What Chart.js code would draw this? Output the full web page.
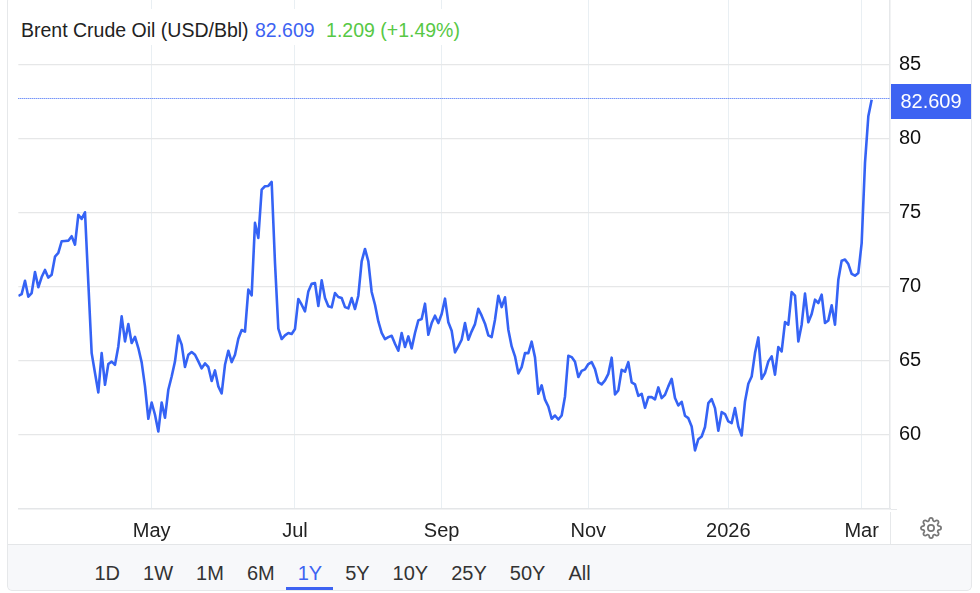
<!DOCTYPE html>
<html>
<head>
<meta charset="utf-8">
<title>Brent Crude Oil</title>
<script src="https://cdn.jsdelivr.net/npm/chart.js@4"></script>
<style>
	html, body { margin: 0; padding: 0; background: #fff; overflow: hidden; }
	body { width: 980px; height: 593px; position: relative; font-family: "Liberation Sans", Arial, sans-serif; }
	#chartWrap { position: absolute; left: 0; top: 0; width: 980px; height: 593px; }
	#header { position: absolute; left: 18px; top: 9px; width: 447px; height: 36px; background: #fff; font-size: 19.5px; line-height: 42px; color: #222; white-space: nowrap; padding-left: 3px; box-sizing: border-box; }
	#header .last { color: #3d63f2; margin-left: 1px; }
	#header .change { color: #57c845; margin-left: 6px; }
	#footer { position: absolute; left: 8px; top: 544px; width: 963px; height: 46px; box-sizing: border-box; background: #f7f8fa; border-top: 1px solid #e4e6e8; display: flex; gap: 23px; padding-left: 86.5px; font-size: 20px; line-height: 56px; color: #333; }
	#footer span { position: relative; }
	#footer span.active { color: #3d63f2; }
	#footer span.active::after { content: ''; position: absolute; left: -12px; right: -11px; bottom: 0; height: 3px; background: #3d63f2; }
	#frame { position: absolute; left: 7px; top: -4px; width: 965px; height: 595px; box-sizing: border-box; border: 1.5px solid #e6e8ea; border-radius: 5px; pointer-events: none; }
	#axisStub { position: absolute; left: 889.5px; top: 512px; width: 1.5px; height: 32px; background: #e6e8ea; }
	#axisEnd { position: absolute; left: 891px; top: 508.5px; width: 6px; height: 1.5px; background: #e6e8ea; }
	#gear { position: absolute; left: 920px; top: 517px; width: 22px; height: 22px; fill: none; stroke: #777; stroke-width: 1.9; }
</style>
</head>
<body>
<div id="chartWrap"><canvas id="oilChart" width="980" height="593"></canvas></div>
<div id="header">Brent Crude Oil (USD/Bbl) <span class="last">82.609</span> <span class="change">1.209 (+1.49%)</span></div>
<div id="axisStub"></div>
<div id="axisEnd"></div>
<svg id="gear" viewBox="0 0 24 24"><circle cx="12" cy="12" r="3.4"></circle><path d="M19.4 15a1.65 1.65 0 0 0 .33 1.82l.06.06a2 2 0 0 1 0 2.83 2 2 0 0 1-2.83 0l-.06-.06a1.65 1.65 0 0 0-1.82-.33 1.65 1.65 0 0 0-1 1.51V21a2 2 0 0 1-2 2 2 2 0 0 1-2-2v-.09A1.65 1.65 0 0 0 9 19.4a1.65 1.65 0 0 0-1.82.33l-.06.06a2 2 0 0 1-2.83 0 2 2 0 0 1 0-2.83l.06-.06a1.65 1.65 0 0 0 .33-1.82 1.65 1.65 0 0 0-1.51-1H3a2 2 0 0 1-2-2 2 2 0 0 1 2-2h.09A1.65 1.65 0 0 0 4.6 9a1.65 1.65 0 0 0-.33-1.82l-.06-.06a2 2 0 0 1 0-2.83 2 2 0 0 1 2.83 0l.06.06a1.65 1.65 0 0 0 1.82.33H9a1.65 1.65 0 0 0 1-1.51V3a2 2 0 0 1 2-2 2 2 0 0 1 2 2v.09a1.65 1.65 0 0 0 1 1.51 1.65 1.65 0 0 0 1.82-.33l.06-.06a2 2 0 0 1 2.83 0 2 2 0 0 1 0 2.83l-.06.06a1.65 1.65 0 0 0-.33 1.82V9a1.65 1.65 0 0 0 1.51 1H21a2 2 0 0 1 2 2 2 2 0 0 1-2 2h-.09a1.65 1.65 0 0 0-1.51 1z"></path></svg>
<div id="footer"></div>
<div id="frame"></div>
<script>
// daily closes, one per trading day
const prices = [
	69.35, 69.48, 70.38, 69.30, 69.55, 70.97, 69.94, 70.63, 71.11, 70.59, 70.79, 72.01, 72.26, 73.05, 73.07, 73.09, 73.39, 72.82, 74.83, 74.56,
	75.01, 70.23, 65.49, 64.14, 62.83, 65.49, 63.35, 64.75, 64.91, 64.70, 65.94, 67.97, 66.28, 67.45, 66.17, 66.58, 65.83, 64.86, 63.24, 61.05,
	62.15, 61.32, 60.19, 62.15, 61.12, 63.01, 63.91, 64.93, 66.67, 66.06, 64.55, 65.38, 65.56, 65.38, 64.93, 64.46, 64.79, 64.55, 63.60, 64.32,
	63.24, 62.76, 64.70, 65.65, 64.88, 65.38, 66.46, 67.05, 66.94, 69.78, 69.39, 74.29, 73.27, 76.54, 76.77, 76.79, 77.06, 71.58, 67.14, 66.44,
	66.69, 66.85, 66.78, 67.12, 69.15, 68.76, 68.31, 69.66, 70.18, 70.23, 68.67, 70.41, 69.21, 68.65,
	68.58, 69.55, 69.28, 69.21, 68.60, 68.51, 69.21, 68.47, 69.37, 71.69, 72.53, 71.69, 69.62, 68.76, 67.63, 66.85, 66.44, 66.57, 66.66, 66.12,
	65.65, 66.85, 65.90, 66.62, 65.81, 66.85, 67.70, 67.79, 68.83, 66.73, 67.52, 68.02, 67.52, 68.13, 69.17, 67.57, 67.00, 65.54, 65.94, 66.39,
	67.52, 66.39, 66.96, 67.45, 68.49, 68.02, 67.48, 66.69, 66.57, 67.75, 69.37, 68.60, 69.26, 67.07, 65.94, 65.27, 64.12, 64.54, 65.49, 65.49,
	66.26, 65.20, 62.74, 63.31, 62.34, 61.88, 61.05, 61.27, 61.00, 61.27, 62.56, 65.31, 65.22, 64.90, 63.87, 64.29, 64.39, 64.75, 64.88, 64.41,
	63.53, 63.37, 63.64, 64.09, 65.18, 62.70, 62.97, 64.36, 64.23, 64.88, 63.51, 63.37, 62.60, 62.74, 61.79, 62.51, 62.51, 62.36, 63.17,
	62.45, 62.67, 63.24, 63.75, 62.45, 61.95, 62.20, 61.25, 61.09, 60.53, 58.91, 59.67, 59.85, 60.49, 62.11, 62.38, 61.77, 60.24, 61.50, 61.37,
	60.87, 60.76, 61.77, 60.53, 59.92, 62.22, 63.42, 63.91, 65.49, 66.55, 63.75, 64.14, 64.93, 65.27, 64.03, 65.90, 65.60, 67.59, 67.41, 69.62,
	69.37, 66.28, 67.41, 69.51, 67.57, 68.13, 69.10, 68.87, 69.44, 67.52, 67.70, 68.72, 67.41, 70.45, 71.74, 71.81, 71.51, 70.84, 70.72, 70.91,
	72.93, 78.35, 81.50, 82.609
];
const tickIndexes = [40, 83, 127, 171, 213, 253];
const tickLabels = ['May', 'Jul', 'Sep', 'Nov', '2026', 'Mar'];
const priceTicks = [60, 65, 70, 75, 80, 85];
const ranges = ['1D', '1W', '1M', '6M', '1Y', '5Y', '10Y', '25Y', '50Y', 'All'];
const activeRange = '1Y';
const lastPrice = prices[prices.length - 1];

const BLUE = '#3563f5';

ranges.forEach(r => {
	let el = document.createElement('span');
	el.textContent = r;
	if (r === activeRange) { el.classList.add('active'); }
	document.getElementById('footer').appendChild(el);
});

// dotted line and blue badge at the last price
let lastPriceMarker = {
	id: 'lastPriceMarker',
	afterDraw (chart) {
		let { ctx, scales: { y }, chartArea } = chart;
		// snap to a pixel row so the dots stay crisp
		let py = Math.floor(y.getPixelForValue(lastPrice)) - 0.5;
		ctx.save();
		ctx.beginPath();
		ctx.setLineDash([1, 1]);
		ctx.moveTo(chartArea.left, py);
		ctx.lineTo(chartArea.right, py);
		ctx.lineWidth = 1;
		ctx.strokeStyle = BLUE;
		ctx.stroke();
		ctx.setLineDash([]);
		ctx.fillStyle = '#3d63f2';
		ctx.fillRect(chartArea.right + 1, py - 14.5, 80, 35);
		ctx.fillStyle = '#fff';
		ctx.font = '20px "Liberation Sans", Arial, sans-serif';
		ctx.textAlign = 'center';
		ctx.textBaseline = 'middle';
		ctx.fillText(String(lastPrice), chartArea.right + 41, py + 4);
		ctx.restore();
	},
};

new Chart(document.getElementById('oilChart'), {
	type: 'line',
	data: {
		datasets: [{
			data: prices.map((p, i) => ({ x: i, y: p })),
			borderColor: BLUE,
			borderWidth: 2.6,
			pointRadius: 0,
			tension: 0,
			borderJoinStyle: 'round',
		}],
	},
	options: {
		responsive: false,
		animation: false,
		devicePixelRatio: 1,
		layout: { padding: { left: 18.33 } },
		plugins: { legend: { display: false }, tooltip: { enabled: false } },
		scales: {
			x: {
				type: 'linear',
				min: 0,
				max: 261.5,
				afterFit (scale) {
					scale.height = 84;
					scale.paddingLeft = 0;
					scale.paddingRight = 0;
				},
				afterBuildTicks (scale) { scale.ticks = tickIndexes.map(v => ({ value: v })); },
				grid: { color: '#e9eff3', lineWidth: 1, drawTicks: false },
				border: { color: '#e4e6e8', width: 1.5 },
				ticks: {
					autoSkip: false,
					maxRotation: 0,
					padding: 10,
					color: '#222',
					font: { family: '"Liberation Sans", Arial, sans-serif', size: 20 },
					callback: (v) => tickLabels[tickIndexes.indexOf(v)],
				},
			},
			y: {
				position: 'right',
				min: 54.95,
				max: 89.36,
				afterFit (scale) {
					scale.width = 90;
					scale.paddingTop = 0;
					scale.paddingBottom = 0;
				},
				afterBuildTicks (scale) { scale.ticks = priceTicks.map(v => ({ value: v })); },
				grid: { color: '#e6e7e8', lineWidth: 1.3, drawTicks: false },
				border: { color: '#e6e8ea', width: 1.5 },
				ticks: {
					padding: 9,
					align: 'center',
					color: '#111',
					font: { family: '"Liberation Sans", Arial, sans-serif', size: 20 },
					callback: (v) => String(v),
				},
			},
		},
	},
	plugins: [ lastPriceMarker ],
});
</script>
</body>
</html>
